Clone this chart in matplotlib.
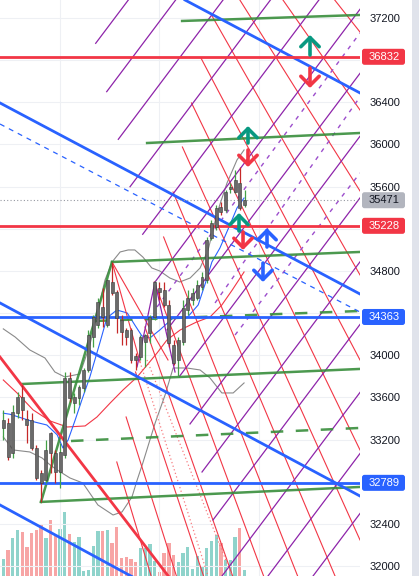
# coding=utf-8
# 复刻K线图：布林带 + 各种画线
import matplotlib
matplotlib.use('Agg')
import matplotlib.pyplot as plt
import matplotlib.patches as mpatches
import matplotlib.transforms as mtrans

plt.rcParams['font.family'] = ['Liberation Sans', 'DejaVu Sans']

# K线数据 (开 高 低 收)
opens = [33310, 33357, 33072, 33452, 33604, 33395, 33386, 33120, 32883, 32816,
         33262, 33072, 32892, 33054, 33784, 33547, 33594, 33689, 33860, 34173,
         34287, 34458, 34287, 34695, 34600, 34335, 34240, 34240, 33993, 33983,
         34126, 34211, 34363, 34638, 34619, 34477, 34097, 33955, 34126, 34429,
         34524, 34543, 34648, 34714, 35113, 35217, 35407, 35378, 35578, 35549,
         35634, 35426]
highs = [33481, 33405, 33528, 33651, 33718, 33481, 33452, 33148, 32911, 33196,
         33272, 33101, 33167, 33841, 33841, 33642, 33718, 33879, 34240, 34382,
         34543, 34638, 34752, 34885, 34619, 34382, 34259, 34259, 34021, 34192,
         34200, 34382, 34705, 34695, 34695, 34524, 34145, 34173, 34524, 34619,
         34638, 34714, 34790, 35122, 35284, 35426, 35454, 35568, 35634, 35758,
         35786, 35568]
lows = [33196, 33006, 33025, 33405, 33386, 33167, 33101, 32816, 32608, 32788,
        32883, 32788, 32740, 33025, 33556, 33452, 33528, 33651, 33841, 34078,
        34259, 34268, 34268, 34572, 34211, 34097, 34097, 33926, 33860, 33955,
        33889, 34116, 34335, 34524, 34458, 34078, 33908, 33794, 34097, 34382,
        34477, 34524, 34619, 34686, 35094, 35189, 35331, 35359, 35540, 35540,
        35378, 35407]
closes = [33386, 33034, 33462, 33604, 33481, 33338, 33120, 32835, 32788, 33101,
          33072, 32892, 33082, 33784, 33594, 33604, 33699, 33860, 34192, 34363,
          34505, 34363, 34714, 34591, 34353, 34221, 34173, 33955, 33955, 34173,
          34192, 34363, 34695, 34600, 34477, 34116, 33926, 34145, 34448, 34543,
          34591, 34667, 34743, 35094, 35255, 35397, 35359, 35549, 35597, 35663,
          35397, 35471]
volumes = [17, 26, 38, 46, 44, 29, 43, 46, 51, 38, 56, 40, 47, 64, 42, 34, 39, 5,
           6, 30, 45, 45, 46, 33, 49, 18, 19, 17, 14, 28, 28, 32, 15, 4, 23, 33,
           21, 14, 23, 29, 7, 20, 9, 28, 35, 41, 33, 16, 16, 39, 48, 6]

# 布林带上下轨、中轨(红)、快线(蓝)
upper_x = [0, 2.5, 5.6, 8.8, 10.9, 13.0, 16.2, 18.3, 20.0, 21.5, 23.0, 24.7, 26.4,
           27.8, 29.5, 31.4, 33.1, 35.2, 37.3, 39.5, 41.6, 43.3, 45.2, 47.3, 49.4, 50.9]
upper_y = [34250, 34173, 34050, 33974, 33841, 33794, 33822, 34097, 34429, 34714,
           34885, 34980, 34999, 34999, 34932, 34828, 34799, 34733, 34695, 34733,
           34828, 34999, 35350, 35635, 35853, 35948]
lower_x = [0, 2.1, 5.6, 8.2, 9.9, 11.4, 14.1, 16.8, 20.0, 23.2, 25.1, 27.2, 28.3,
           29.5, 32.1, 34.2, 35.9, 38.8, 41.6, 43.7, 46.2, 48.6, 50.9]
lower_y = [33224, 33101, 33082, 33025, 32959, 32911, 32835, 32788, 32579, 32484,
           32513, 32655, 32816, 32978, 33357, 33623, 33879, 33879, 33860, 33784,
           33642, 33642, 33737]
mid_x = [0, 2.9, 6.3, 9.9, 13.5, 17.3, 19.8, 22.6, 25.3, 28.3, 30.4, 32.5, 34.6,
         37.4, 40.9, 43.7, 46.2, 48.4, 50.9]
mid_y = [33765, 33642, 33481, 33376, 33319, 33329, 33414, 33547, 33670, 33794,
         33907, 34021, 34145, 34240, 34316, 34363, 34477, 34619, 34790]
fast_x = [0, 1.4, 3.5, 6.3, 9.2, 11.4, 12.6, 13.7, 15.2, 16.6, 18.3, 20.4, 21.9,
          24.0, 26.2, 27.8, 29.3, 31.0, 33.1, 35.9, 38.8, 41.2, 42.6, 44.1, 45.8,
          47.9, 49.4, 50.9]
fast_y = [33450, 33440, 33410, 33370, 33338, 33244, 33120, 33196, 33386, 33575,
          33794, 34116, 34354, 34429, 34401, 34287, 34183, 34164, 34240, 34354,
          34354, 34477, 34667, 34885, 35018, 35236, 35397, 35492]

# 画线 (x0, p0, x1, p1)
green_lines = [(37.8, 37172, 75.41, 37229), (30.4, 36014, 75.41, 36109),
               (22.98, 34885, 75.41, 34980), (3.95, 33727, 75.41, 33870),
               (7.97, 32608, 75.41, 32750), (7.97, 32608, 22.98, 34885)]
green_dash = [(19.39, 34325, 75.41, 34420), (14.31, 33186, 75.41, 33310)]
blue_lines = [(38.41, 37371, 75.41, 36489), (-0.70, 36394, 75.41, 34581),
              (-0.70, 34496, 75.41, 32664), (-0.70, 32579, 28.9, 31858)]
blue_dash = [(-0.70, 36194, 75.41, 34410)]
red_thick = [(-0.70, 33983, 35.67, 31858)]
red_levels = [36832, 35228]
blue_levels = [34363, 32789]
last_price = 35471
red_fan = [(45.75, 37675, 75.41, 35559), (47.72, 38102, 75.41, 36327),
           (49.70, 38529, 75.41, 37067), (43.76, 37248, 75.41, 34762),
           (41.78, 36821, 75.41, 33955), (39.79, 36394, 75.41, 33101),
           (37.86, 35976, 75.41, 32247), (35.88, 35549, 70.13, 31905),
           (33.89, 35122, 62.22, 31905), (31.92, 34695, 55.03, 31905),
           (29.94, 34268, 48.48, 31905), (27.95, 33841, 42.33, 31905),
           (25.96, 33414, 36.60, 31905), (23.99, 32987, 31.25, 31905),
           (22.98, 34885, 28.90, 33936), (22.98, 34885, 34.82, 33955)]
red_dots = [(28.90, 33936, 43.28, 31905), (30.38, 33955, 48.35, 31905)]
purple_lines = [(19.53, 36960, 26.43, 37371), (21.86, 36501, 36.43, 37371),
                (24.31, 36049, 46.45, 37371), (26.79, 35599, 56.47, 37371),
                (29.47, 35148, 66.72, 37371), (32.07, 34695, 75.41, 37283),
                (34.61, 34240, 75.41, 36675), (37.15, 33794, 75.41, 36078),
                (39.47, 33348, 75.41, 35493), (42.01, 32892, 75.41, 34886),
                (44.33, 32437, 75.41, 34292), (46.24, 31905, 75.41, 33647),
                (55.96, 31905, 75.41, 33067), (65.48, 31905, 75.41, 32498)]
purple_dash = [(32.49, 34458, 75.41, 37058), (44.76, 34496, 75.41, 36451),
               (48.99, 34192, 75.41, 35729)]
zigzag_x = [28.27, 32.07, 36.30]
zigzag_y = [33889, 34695, 33841]

# 箭头 (x, 起点, 终点, 颜色)
arrow_x = [64.84, 64.84, 51.73, 51.73, 49.83, 50.68, 55.75, 54.90]
arrow_from = [36849, 36726, 36014, 35948, 35179, 35170, 35027, 34875]
arrow_to = [37039, 36536, 36175, 35786, 35350, 34999, 35207, 34695]
arrow_col = ['#089981', '#f23645', '#089981', '#f23645', '#089981', '#f23645',
             '#2962ff', '#2962ff']

# 右侧价格刻度
tick_levels = [37200, 36800, 36400, 36000, 35600, 35200, 34800, 34400, 34000,
               33600, 33200, 32800, 32400, 32000]
tick_hidden = [36800, 35200, 34400, 32800]
box_values = [36832, 35471, 35228, 34363, 32789]
box_bg = ['#f23645', '#b2b5be', '#f23645', '#2962ff', '#2962ff']
box_fg = ['white', '#131722', 'white', 'white', 'white']

XL = (-0.70, 75.41)
YL = (31905, 37371)

fig = plt.figure(figsize=(4.19, 5.76), dpi=100)
rect = [0, 0, 360 / 419, 1]
vax = fig.add_axes(rect, zorder=0)
ax = fig.add_axes(rect, zorder=1)
ax.patch.set_alpha(0)

# 成交量
n = len(closes)
idx = list(range(n))
vcol = ['#8fd3cb' if closes[i] >= opens[i] else '#f7a5a5' for i in idx]
vax.bar(idx, volumes, width=0.7, color=vcol)
vax.set_xlim(XL)
vax.set_ylim(0, 576)
vax.axis('off')


def seg(lst, **kw):
    for x0, y0, x1, y1 in lst:
        ax.plot([x0, x1], [y0, y1], **kw)


# 布林带
ax.plot(upper_x, upper_y, color='#8a8a8a', lw=0.8, zorder=1)
ax.plot(lower_x, lower_y, color='#8a8a8a', lw=0.8, zorder=1)
ax.plot(mid_x, mid_y, color='#f23645', lw=0.8, zorder=1)
ax.plot(fast_x, fast_y, color='#2962ff', lw=0.8, zorder=1)

# 网格线
seg(red_fan, color='#f23645', lw=0.8, zorder=2)
seg(red_dots, color='#f77c80', lw=0.9, ls=(0, (1, 2)), zorder=2)
seg(purple_lines, color='#8e24aa', lw=0.9, zorder=2)
seg(purple_dash, color='#9c4dcc', lw=1.0, ls=(0, (3, 4)), zorder=2)
ax.plot(zigzag_x, zigzag_y, color='#8e24aa', lw=0.9, zorder=2)

# 主要画线
seg(green_lines, color='#388e3c', lw=1.8, alpha=0.9, zorder=3)
seg(green_dash, color='#388e3c', lw=1.8, alpha=0.9, ls=(0, (5, 5)), zorder=3)
seg(blue_lines, color='#2962ff', lw=2.0, zorder=3)
seg(blue_dash, color='#2962ff', lw=0.9, ls=(0, (4, 4)), zorder=3)
seg(red_thick, color='#f23645', lw=2.0, zorder=3)
for v in red_levels:
    ax.axhline(v, color='#f23645', lw=2.0, zorder=3)
for v in blue_levels:
    ax.axhline(v, color='#2962ff', lw=2.0, zorder=3)
ax.axhline(last_price, color='#9598a1', lw=0.8, ls=(0, (1, 2)), zorder=3)

# K线
for i in idx:
    up = closes[i] >= opens[i]
    ax.vlines(i, lows[i], highs[i], color='#43a047' if up else '#c62828', lw=0.9, zorder=4)
    lo = min(opens[i], closes[i])
    h = max(abs(closes[i] - opens[i]), 15)
    ax.bar(i, h, bottom=lo, width=0.62, color='#6b6b6b', edgecolor='#3a3a3a',
           linewidth=0.4, zorder=5)

# 箭头
for x, a, b, c in zip(arrow_x, arrow_from, arrow_to, arrow_col):
    ax.annotate('', xy=(x, b), xytext=(x, a), zorder=6,
                arrowprops=dict(arrowstyle='->,head_length=0.55,head_width=0.55',
                                color=c, lw=2.6, mutation_scale=12,
                                shrinkA=0, shrinkB=0))

# 坐标轴
ax.set_xlim(XL)
ax.set_ylim(YL)
ax.set_xticks([12, 33, 54])
ax.set_xticklabels([])
ax.yaxis.tick_right()
ax.set_yticks(tick_levels)
ax.set_yticklabels(['' if v in tick_hidden else str(v) for v in tick_levels])
ax.tick_params(axis='y', length=0, pad=7, labelsize=8, labelcolor='#131722')
ax.tick_params(axis='x', length=0)
ax.grid(True, color='#eef0f4', lw=0.8, zorder=0)
ax.set_axisbelow(True)
for s in ax.spines.values():
    s.set_visible(False)

# 价格标签
blend = mtrans.blended_transform_factory(fig.transFigure, ax.transData)
for v, bg, fg in zip(box_values, box_bg, box_fg):
    box = mpatches.FancyBboxPatch((362 / 419, v - 76), 43 / 419, 152,
                                  boxstyle='round,pad=0,rounding_size=0.006',
                                  mutation_aspect=3955, transform=blend,
                                  facecolor=bg, edgecolor='none', clip_on=False, zorder=7)
    ax.add_patch(box)
    ax.text(384 / 419, v, str(v), transform=blend, ha='center', va='center',
            fontsize=8, color=fg, zorder=8)
ax.set_xlim(XL)
ax.set_ylim(YL)

fig.patches.append(mpatches.Rectangle((412 / 419, 0), 7 / 419, 1, transform=fig.transFigure,
                                      facecolor='#e0e3eb', edgecolor='none'))

fig.savefig('out.png', dpi=100, facecolor='white')
